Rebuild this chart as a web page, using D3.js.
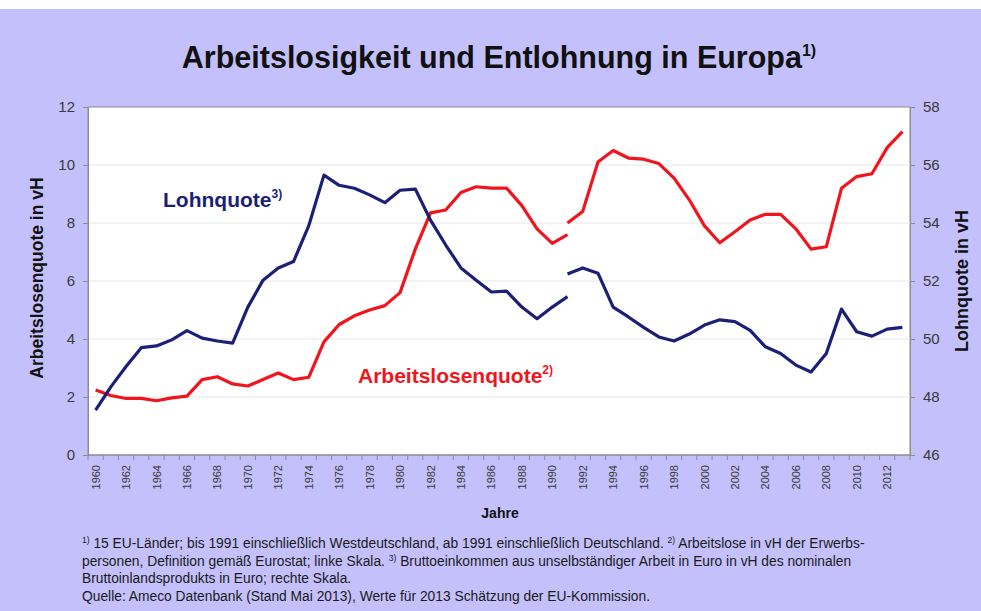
<!DOCTYPE html>
<html>
<head>
<meta charset="utf-8">
<style>
    body { margin: 0; background: #fff; }
    svg text { font-family: "Liberation Sans", Arial, sans-serif; }
</style>
</head>
<body>
<script src="https://d3js.org/d3.v7.min.js"></script>
<script>
    var width = 981, height = 611;

    // years on the category axis
    var years = d3.range(1960, 2014);

    // Arbeitslosenquote (left scale), West Germany series to 1991 and Germany series from 1991
    var alqOldYears = d3.range(1960, 1992);
    var alqOld = [2.24, 2.05, 1.95, 1.95, 1.87, 1.97, 2.03, 2.6, 2.7, 2.45,
                  2.38, 2.6, 2.83, 2.6, 2.68, 3.9, 4.5, 4.8, 5.0, 5.15,
                  5.6, 7.1, 8.35, 8.45, 9.05, 9.25, 9.2, 9.2, 8.6, 7.8,
                  7.3, 7.6];
    var alqNewYears = d3.range(1991, 2014);
    var alqNew = [8.0, 8.4, 10.1, 10.5, 10.24, 10.2, 10.05, 9.55, 8.8, 7.9,
                  7.32, 7.7, 8.1, 8.3, 8.3, 7.8, 7.1, 7.18, 9.2, 9.6,
                  9.7, 10.6, 11.15];

    // Lohnquote (right scale)
    var lqOld = [47.55, 48.35, 49.05, 49.7, 49.76, 49.97, 50.29, 50.03, 49.93, 49.86,
                 51.1, 52.03, 52.45, 52.67, 53.9, 55.65, 55.3, 55.2, 54.97, 54.7,
                 55.13, 55.17, 54.1, 53.24, 52.45, 52.03, 51.62, 51.65, 51.1, 50.7,
                 51.1, 51.46];
    var lqNew = [52.24, 52.45, 52.27, 51.1, 50.76, 50.4, 50.07, 49.93, 50.17, 50.48,
                 50.66, 50.6, 50.3, 49.73, 49.5, 49.1, 48.86, 49.5, 51.03, 50.25,
                 50.1, 50.34, 50.4];

    var leftTicks = [0, 2, 4, 6, 8, 10, 12];
    var rightTicks = [46, 48, 50, 52, 54, 56, 58];

    var footnotes = [
        [["1)", true], [" 15 EU-Länder; bis 1991 einschließlich Westdeutschland, ab 1991 einschließlich Deutschland. ", false], ["2)", true], [" Arbeitslose in vH der Erwerbs-", false]],
        [["personen, Definition gemäß Eurostat; linke Skala. ", false], ["3)", true], [" Bruttoeinkommen aus unselbständiger Arbeit in Euro in vH des nominalen", false]],
        [["Bruttoinlandsprodukts in Euro; rechte Skala.", false]],
        [["Quelle: Ameco Datenbank (Stand Mai 2013), Werte für 2013 Schätzung der EU-Kommission.", false]]
    ];

    var red = "#f2141c", navy = "#1c1f78";
    var plot = {left: 88, top: 107, right: 910, bottom: 455};

    var svg = d3.select("body").append("svg")
        .attr("width", width)
        .attr("height", height);

    svg.append("rect")
        .attr("x", 0).attr("y", 9)
        .attr("width", width).attr("height", height - 9)
        .attr("fill", "#c3c0fb");

    var x = d3.scaleBand().domain(years).range([plot.left, plot.right]);
    var yL = d3.scaleLinear().domain([0, 12]).range([plot.bottom, plot.top]);
    var yR = d3.scaleLinear().domain([46, 58]).range([plot.bottom, plot.top]);
    var cx = function (yr) { return x(yr) + x.bandwidth() / 2; };

    // plot area
    svg.append("rect")
        .attr("x", plot.left).attr("y", plot.top)
        .attr("width", plot.right - plot.left).attr("height", plot.bottom - plot.top)
        .attr("fill", "#fff")
        .attr("stroke", "#8c8c8c");

    // gridlines
    svg.append("g").selectAll("line")
        .data(leftTicks.slice(1, -1))
        .enter().append("line")
        .attr("x1", plot.left).attr("x2", plot.right)
        .attr("y1", function (d) { return yL(d); })
        .attr("y2", function (d) { return yL(d); })
        .attr("stroke", "#e6e6e6");

    // left axis
    var gl = svg.append("g")
        .attr("transform", "translate(" + plot.left + ",0)")
        .call(d3.axisLeft(yL).tickValues(leftTicks).tickSize(5).tickPadding(8));
    // right axis
    var gr = svg.append("g")
        .attr("transform", "translate(" + plot.right + ",0)")
        .call(d3.axisRight(yR).tickValues(rightTicks).tickSize(5).tickPadding(8));
    [gl, gr].forEach(function (g) {
        g.select(".domain").attr("stroke", "#8c8c8c");
        g.selectAll(".tick line").attr("stroke", "#8c8c8c");
        g.selectAll(".tick text")
            .attr("fill", "#3a3a3a")
            .style("font-size", "15px");
    });

    // bottom axis: ticks at every category boundary, labels every two years
    var gb = svg.append("g")
        .attr("transform", "translate(0," + plot.bottom + ")");
    gb.append("line")
        .attr("x1", plot.left).attr("x2", plot.right)
        .attr("stroke", "#8c8c8c");
    gb.selectAll("line.tk")
        .data(years.concat([2014]))
        .enter().append("line")
        .attr("class", "tk")
        .attr("x1", function (d) { return d === 2014 ? plot.right : x(d); })
        .attr("x2", function (d) { return d === 2014 ? plot.right : x(d); })
        .attr("y1", 0).attr("y2", 5)
        .attr("stroke", "#8c8c8c");
    gb.selectAll("text")
        .data(years.filter(function (d) { return d % 2 === 0; }))
        .enter().append("text")
        .attr("transform", function (d) { return "translate(" + (cx(d) + 4) + ",10) rotate(-90)"; })
        .attr("text-anchor", "end")
        .attr("fill", "#3a3a3a")
        .style("font-size", "11px")
        .text(function (d) { return d; });

    // lines
    var lineL = d3.line().x(function (d) { return cx(d[0]); }).y(function (d) { return yL(d[1]); });
    var lineR = d3.line().x(function (d) { return cx(d[0]); }).y(function (d) { return yR(d[1]); });

    var segs = [
        {pts: d3.zip(alqOldYears, alqOld), fn: lineL, color: red},
        {pts: d3.zip(alqNewYears, alqNew), fn: lineL, color: red},
        {pts: d3.zip(alqOldYears, lqOld), fn: lineR, color: navy},
        {pts: d3.zip(alqNewYears, lqNew), fn: lineR, color: navy}
    ];
    svg.append("g").selectAll("path")
        .data(segs)
        .enter().append("path")
        .attr("d", function (d) { return d.fn(d.pts); })
        .attr("fill", "none")
        .attr("stroke", function (d) { return d.color; })
        .attr("stroke-width", 3.2)
        .attr("stroke-linejoin", "round");

    // helper for text with superscript
    function supText(sel, main, sup, supSize, shift) {
        sel.append("tspan").text(main);
        sel.append("tspan").attr("dy", -shift).style("font-size", supSize + "px").text(sup);
    }

    // title
    var title = svg.append("text")
        .attr("x", 499).attr("y", 68)
        .attr("text-anchor", "middle")
        .attr("fill", "#111")
        .style("font-size", "30.5px")
        .style("font-weight", "bold");
    supText(title, "Arbeitslosigkeit und Entlohnung in Europa", "1)", 16, 12);

    // series labels
    var lq = svg.append("text")
        .attr("x", 163).attr("y", 207)
        .attr("fill", navy)
        .style("font-size", "21px")
        .style("font-weight", "bold");
    supText(lq, "Lohnquote", "3)", 12, 9);

    var al = svg.append("text")
        .attr("x", 358).attr("y", 383)
        .attr("fill", red)
        .style("font-size", "21px")
        .style("font-weight", "bold");
    supText(al, "Arbeitslosenquote", "2)", 12, 9);

    // axis titles
    svg.append("text")
        .attr("transform", "translate(43,278) rotate(-90)")
        .attr("text-anchor", "middle")
        .attr("fill", "#111")
        .style("font-size", "17.5px")
        .style("font-weight", "bold")
        .text("Arbeitslosenquote in vH");
    svg.append("text")
        .attr("transform", "translate(968,281) rotate(-90)")
        .attr("text-anchor", "middle")
        .attr("fill", "#111")
        .style("font-size", "18px")
        .style("font-weight", "bold")
        .text("Lohnquote in vH");
    svg.append("text")
        .attr("x", 500).attr("y", 518)
        .attr("text-anchor", "middle")
        .attr("fill", "#111")
        .style("font-size", "14px")
        .style("font-weight", "bold")
        .text("Jahre");

    // footnotes
    var fnY = [548, 566, 583, 601];
    footnotes.forEach(function (parts, i) {
        var t = svg.append("text")
            .attr("x", 82).attr("y", fnY[i])
            .attr("fill", "#1a1a1a")
            .style("font-size", "13.8px");
        var lift = 0;
        parts.forEach(function (p) {
            var ts = t.append("tspan").text(p[0]);
            if (p[1]) {
                ts.attr("dy", -5).style("font-size", "8.5px");
                lift = 5;
            } else if (lift) {
                ts.attr("dy", lift);
                lift = 0;
            }
        });
    });
</script>
</body>
</html>
